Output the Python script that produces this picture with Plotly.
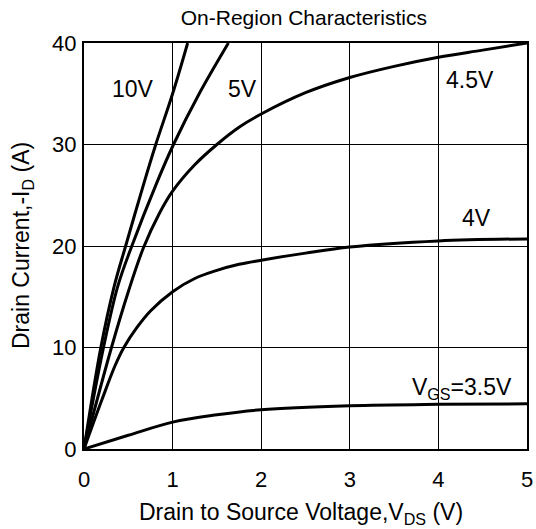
import plotly.graph_objects as go

# Drain-source voltage (V) and drain current (A) per gate voltage curve
vds_10v = [0, 0.19, 0.34, 0.47, 0.67, 0.81, 1.0, 1.17]
id_10v = [0, 10, 16, 20, 26, 30, 35, 40]

vds_5v = [0, 0.22, 0.38, 0.54, 0.82, 1.01, 1.30, 1.63]
id_5v = [0, 10, 16, 20, 26.2, 30, 35, 40]

vds_45v = [0, 0.31, 0.5, 0.67, 0.85, 1.0, 1.25, 1.5, 1.75, 2.0, 2.5, 3.0, 3.5, 4.0, 4.5, 5.0]
id_45v = [0, 10, 15.5, 19.8, 23.2, 25.4, 28.0, 30.0, 31.7, 33.0, 35.1, 36.6, 37.7, 38.6, 39.3, 40]

vds_4v = [0, 0.2, 0.35, 0.45, 0.6, 0.75, 1.0, 1.25, 1.5, 1.75, 2.0, 2.5, 3.0, 4.0, 5.0]
id_4v = [0, 4.8, 8.2, 10, 12, 13.6, 15.5, 16.8, 17.6, 18.2, 18.6, 19.3, 19.9, 20.5, 20.7]

vds_35v = [0, 0.5, 1.0, 1.5, 2.0, 3.0, 4.0, 5.0]
id_35v = [0, 1.35, 2.65, 3.37, 3.87, 4.26, 4.4, 4.45]

curve_labels = ["10V", "5V", "4.5V", "4V", "V<sub>GS</sub>=3.5V"]
label_x = [0.55, 1.79, 4.36, 4.43, 4.27]
label_y = [35.5, 35.5, 36.4, 22.8, 6.0]

x_ticks = [0, 1, 2, 3, 4, 5]
y_ticks = [0, 10, 20, 30, 40]

FONT = "Arial, Liberation Sans, sans-serif"

fig = go.Figure()
for xs, ys in [(vds_10v, id_10v), (vds_5v, id_5v), (vds_45v, id_45v),
               (vds_4v, id_4v), (vds_35v, id_35v)]:
    fig.add_trace(go.Scatter(x=xs, y=ys, mode="lines",
                             line=dict(color="black", width=3, shape="spline", smoothing=1.0),
                             showlegend=False, hoverinfo="skip"))

for t, x, y in zip(curve_labels, label_x, label_y):
    fig.add_annotation(x=x, y=y, text=t, showarrow=False,
                       font=dict(family=FONT, size=23, color="black"),
                       xanchor="center", yanchor="middle")

# axis titles as annotations for exact placement
fig.add_annotation(xref="paper", yref="paper", x=0.49, y=0, yshift=-64,
                   text="Drain to Source Voltage,V<sub>DS</sub> (V)", showarrow=False,
                   font=dict(family=FONT, size=23, color="black"),
                   xanchor="center", yanchor="middle")
fig.add_annotation(xref="paper", yref="paper", x=0, y=0.5, xshift=-62,
                   text="Drain Current,-I<sub>D</sub> (A)", showarrow=False, textangle=-90,
                   font=dict(family=FONT, size=23, color="black"),
                   xanchor="center", yanchor="middle")

fig.update_layout(
    width=536, height=529,
    margin=dict(l=84, r=9, t=43, b=80, autoexpand=False),
    paper_bgcolor="white", plot_bgcolor="white",
    title=dict(text="On-Region Characteristics", x=0.567, xanchor="center",
               yref="container", y=0.966, yanchor="middle",
               font=dict(family=FONT, size=21, color="black")),
    font=dict(family=FONT, color="black"),
)
fig.update_xaxes(range=[0, 5], tickvals=x_ticks, ticktext=[str(v) for v in x_ticks],
                 showgrid=True, gridcolor="black", gridwidth=1,
                 showline=True, linecolor="black", linewidth=2, mirror=True,
                 zeroline=False, ticks="", ticklabelstandoff=10, automargin=False,
                 tickfont=dict(family=FONT, size=22, color="black"))
fig.update_yaxes(range=[0, 40], tickvals=y_ticks, ticktext=[str(v) for v in y_ticks],
                 showgrid=True, gridcolor="black", gridwidth=1,
                 showline=True, linecolor="black", linewidth=2, mirror=True,
                 zeroline=False, ticks="", ticklabelstandoff=1, automargin=False,
                 tickfont=dict(family=FONT, size=22, color="black"))

fig.write_html("out.html", config={"displayModeBar": False},
               post_script="document.body.style.margin='0';")
